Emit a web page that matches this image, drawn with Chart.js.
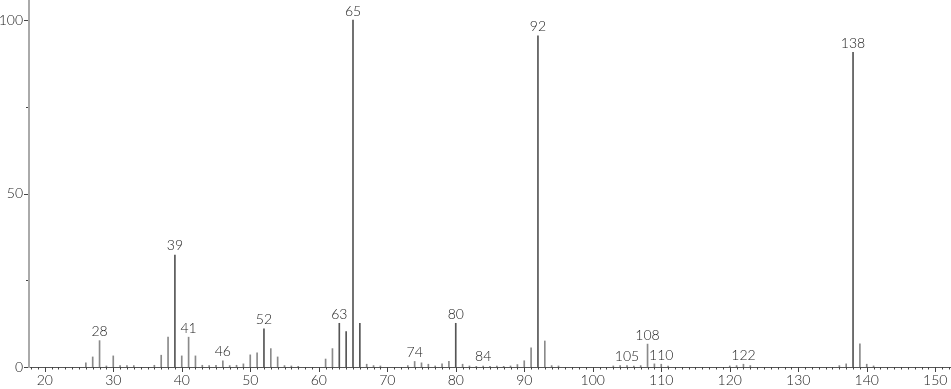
<!DOCTYPE html>
<html>
<head>
<meta charset="utf-8">
<script src="https://cdn.jsdelivr.net/npm/chart.js@4"></script>
<style>
  html, body { margin: 0; padding: 0; background: #fff; }
  #wrap { width: 951px; height: 389px; position: relative; }
</style>
</head>
<body>
<div id="wrap"><canvas id="spec"></canvas></div>
<script>
// m/z values and relative intensities
const mzValues = [26, 27, 28, 29, 30, 31, 32, 33, 36, 37, 38, 39, 40, 41, 42, 43, 44, 45, 46, 47,
  48, 49, 50, 51, 52, 53, 54, 55, 56, 57, 61, 62, 63, 64, 65, 66, 67, 68, 69, 73,
  74, 75, 76, 77, 78, 79, 80, 81, 82, 83, 84, 85, 86, 87, 88, 89, 90, 91, 92, 93,
  94, 95, 103, 104, 105, 106, 107, 108, 109, 110, 111, 120, 121, 122, 123, 136, 137, 138, 139, 140,
  141];
const intensities = [1.2, 2.9, 7.6, 0.3, 3.2, 0.4, 0.4, 0.4, 0.5, 3.4, 8.6, 32.3, 3.2, 8.6, 3.2, 0.5, 0.4, 0.5, 1.8, 0.4,
  0.5, 0.9, 3.5, 4.1, 11.0, 5.3, 2.9, 0.4, 0.3, 0.2, 2.3, 5.3, 12.6, 10.2, 100, 12.6, 0.8, 0.4, 0.3, 0.4,
  1.6, 1.2, 0.8, 0.3, 0.9, 1.6, 12.6, 0.8, 0.3, 0.2, 0.3, 0.2, 0.3, 0.2, 0.3, 0.7, 1.8, 5.5, 95.5, 7.5,
  0.4, 0.3, 0.3, 0.4, 0.4, 0.3, 0.4, 6.6, 0.9, 0.8, 0.3, 0.3, 0.4, 0.8, 0.4, 0.4, 0.9, 90.7, 6.7, 0.8,
  0.3];
// peaks that carry an m/z label
const labeledPeaks = [28, 39, 41, 46, 52, 63, 65, 74, 80, 84, 92, 105, 108, 110, 122, 138];
const xTickLabels = [20, 30, 40, 50, 60, 70, 80, 90, 100, 110, 120, 130, 140, 150];
const yTickLabels = [0, 50, 100];
const yMinorTicks = [25, 75];

const FONT = "300 14px Lato, 'Open Sans', sans-serif";

// tick marks, tick labels and peak labels, placed through the chart's scales
const axisDecor = {
  id: "axisDecor",
  afterDraw(chart) {
    const ctx = chart.ctx;
    const xs = chart.scales.x;
    const ys = chart.scales.y;
    const base = ys.getPixelForValue(0);
    const left = xs.left;
    ctx.save();
    ctx.strokeStyle = "#444";
    ctx.lineWidth = 1;
    ctx.beginPath();
    for (let v = Math.ceil(xs.min); v <= xs.max; v++) {
      const px = Math.round(xs.getPixelForValue(v)) + 0.5;
      const len = v % 10 === 0 ? 5 : 2.5;
      ctx.moveTo(px, base);
      ctx.lineTo(px, base + len);
    }
    yTickLabels.forEach((v) => {
      const py = Math.round(ys.getPixelForValue(v)) + 0.5;
      ctx.moveTo(left - 5, py);
      ctx.lineTo(left - 1, py);
    });
    yMinorTicks.forEach((v) => {
      const py = Math.round(ys.getPixelForValue(v)) + 0.5;
      ctx.moveTo(left - 3, py);
      ctx.lineTo(left - 1, py);
    });
    ctx.stroke();

    ctx.fillStyle = "#222";
    ctx.font = FONT;

    ctx.textAlign = "center";
    ctx.textBaseline = "top";
    xTickLabels.forEach((v) => {
      ctx.fillText(String(v), xs.getPixelForValue(v), base + 6);
    });

    ctx.textAlign = "right";
    ctx.textBaseline = "middle";
    yTickLabels.forEach((v) => {
      ctx.fillText(String(v), left - 6, ys.getPixelForValue(v));
    });

    ctx.textAlign = "center";
    ctx.textBaseline = "bottom";
    labeledPeaks.forEach((m) => {
      const i = mzValues.indexOf(m);
      if (i < 0) return;
      const px = xs.getPixelForValue(m);
      const py = Math.min(ys.getPixelForValue(intensities[i]), base - 2);
      ctx.fillText(String(m), px, py - 2);
    });
    ctx.restore();
  },
};

new Chart(document.getElementById("spec"), {
  type: "bar",
  data: {
    datasets: [
      {
        data: mzValues.map((m, i) => ({ x: m, y: intensities[i] })),
        backgroundColor: (c) => (c.raw && c.raw.y > 10 ? "#555" : "#8a8a8a"),
        barThickness: 1,
        borderWidth: 0,
      },
    ],
  },
  options: {
    responsive: true,
    maintainAspectRatio: false,
    animation: false,
    layout: { padding: 0 },
    plugins: { legend: { display: false }, tooltip: { enabled: false } },
    scales: {
      x: {
        type: "linear",
        offset: false,
        min: 17.7,
        max: 152.3,
        grid: { display: false },
        border: { display: true, color: "#555", width: 1 },
        afterFit: (s) => { s.height = 22; },
        ticks: { display: false },
      },
      y: {
        min: 0,
        max: 105.8,
        grid: { display: false },
        border: { display: true, color: "#aaa", width: 2 },
        afterFit: (s) => { s.width = 29; },
        ticks: { display: false },
      },
    },
  },
  plugins: [axisDecor],
});
</script>
</body>
</html>
